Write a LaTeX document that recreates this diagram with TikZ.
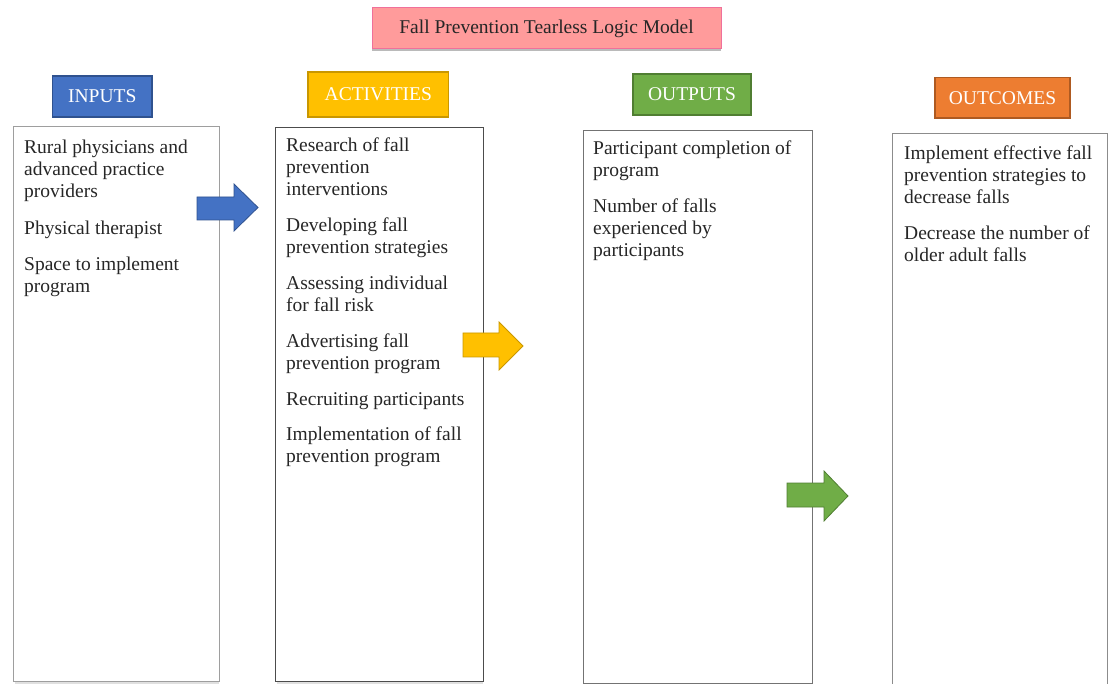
\documentclass[tikz,border=0pt]{standalone}
\usepackage{fontspec}
\setmainfont{Liberation Serif}
\usetikzlibrary{shadows}
\definecolor{titlefill}{HTML}{FF9B9B}
\definecolor{titleline}{HTML}{F0709A}
\definecolor{inblue}{HTML}{4472C4}
\definecolor{inblueD}{HTML}{2F528F}
\definecolor{actgold}{HTML}{FFC000}
\definecolor{actgoldD}{HTML}{C99700}
\definecolor{outgreen}{HTML}{70AD47}
\definecolor{outgreenD}{HTML}{507E32}
\definecolor{ocorange}{HTML}{ED7D31}
\definecolor{ocorangeD}{HTML}{AE5A21}
\begin{document}
\begin{tikzpicture}[x=1pt,y=-1pt,
  every node/.style={font=\fontsize{19.5}{22}\selectfont},
  hdr/.style={draw, line width=1.2pt, text=white, inner sep=0pt},
  colbox/.style={draw, line width=1pt, anchor=north west, inner sep=0pt},
  txt/.style={anchor=north west, inner sep=0pt, align=left, text=black!85},
  blockarrow/.style={line width=0.8pt, line join=miter}]
\useasboundingbox (0,0) rectangle (1108,684);

% title banner
\node[hdr, fill=titlefill, draw=titleline, text=black!85, line width=1pt,
      minimum width=349pt, minimum height=41pt,
      drop shadow={shadow xshift=0pt, shadow yshift=-2.5pt, fill=black!45, opacity=0.6}]
  (title) at (546.5,28.5) {Fall Prevention Tearless Logic Model};

% column headers
\node[hdr, fill=inblue, draw=inblueD, minimum width=99.5pt, minimum height=41pt]
  (inputs) at (102.3,96.5) {INPUTS};
\node[hdr, fill=actgold, draw=actgoldD, minimum width=140.5pt, minimum height=45pt]
  (activities) at (378.3,94.5) {ACTIVITIES};
\node[hdr, fill=outgreen, draw=outgreenD, minimum width=118pt, minimum height=41pt]
  (outputs) at (692,94.5) {OUTPUTS};
\node[hdr, fill=ocorange, draw=ocorangeD, minimum width=135pt, minimum height=40.5pt]
  (outcomes) at (1002.5,97.7) {OUTCOMES};

% column frames
\draw[black!12, line width=3pt] (15,682) -- (219,682);
\draw[black!12, line width=3pt] (277,682) -- (483,682);
\node[colbox, draw=black!38, minimum width=206pt, minimum height=555pt] (inbox) at (13,126) {};
\node[colbox, draw=black!70, minimum width=208pt, minimum height=554pt] (actbox) at (275,127) {};
\node[colbox, draw=black!55, minimum width=229pt, minimum height=553pt] (outbox) at (583,130) {};
\coordinate (ocTop) at (892,134);
\draw[black!45, line width=1pt] (892,690) -- (ocTop) -- (1107,134) -- (1107,690);

% column contents
\node[txt] (intext) at (24,138.1) {\strut Rural physicians and\\advanced practice\\providers\\[14.5pt]Physical therapist\\[14pt]Space to implement\\program};
\node[txt] (acttext) at (286,136.1) {\strut Research of fall\\prevention\\interventions\\[14pt]Developing fall\\prevention strategies\\[14pt]Assessing individual\\for fall risk\\[14pt]Advertising fall\\prevention program\\[14pt]Recruiting participants\\[13pt]Implementation of fall\\prevention program};
\node[txt] (outtext) at (593,139.1) {\strut Participant completion of\\program\\[13.5pt]Number of falls\\experienced by\\participants};
\node[txt] (octext) at (904,144.1) {\strut Implement effective fall\\prevention strategies to\\decrease falls\\[13.5pt]Decrease the number of\\older adult falls};

% block arrows between columns
\filldraw[blockarrow, fill=inblue, draw=inblueD]
  (197,197) -- (234,197) -- (234,184) -- (258,207.5) -- (234,231) -- (234,220) -- (197,220) -- cycle;
\filldraw[blockarrow, fill=actgold, draw=actgoldD]
  (463,333) -- (499,333) -- (499,322) -- (523,346) -- (499,370) -- (499,357) -- (463,357) -- cycle;
\filldraw[blockarrow, fill=outgreen, draw=outgreenD]
  (787,483) -- (824,483) -- (824,471) -- (848,496) -- (824,521) -- (824,507) -- (787,507) -- cycle;
\end{tikzpicture}
\end{document}
